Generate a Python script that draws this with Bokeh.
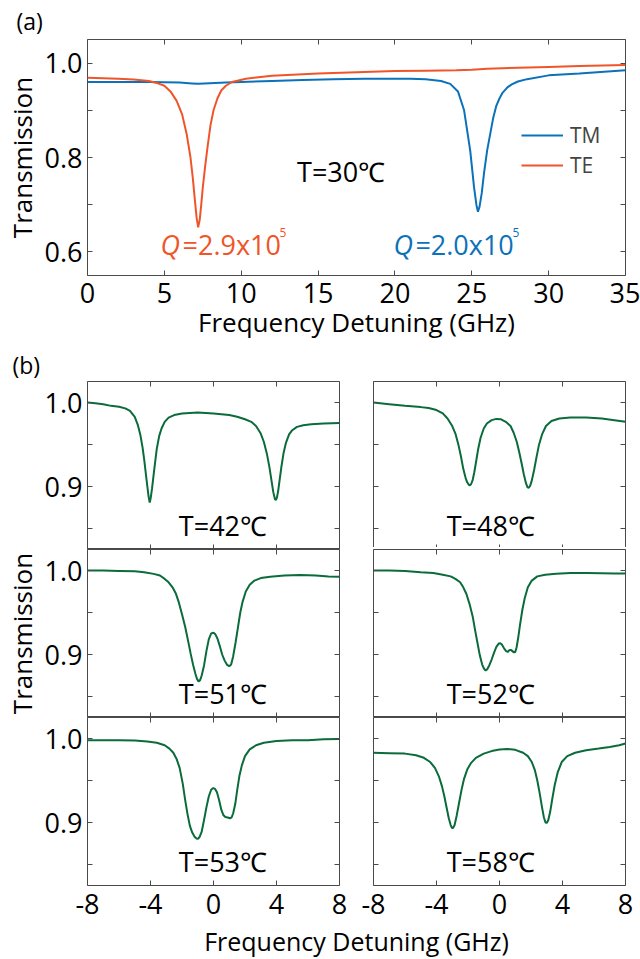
from bokeh.plotting import figure
from bokeh.models import (LinearAxis, FixedTicker, Range1d, Label, Legend, LegendItem,
                          PrintfTickFormatter, Title)
from bokeh.layouts import column, row
from bokeh.embed import file_html
from bokeh.resources import INLINE

FONT = "Open Sans"
AXC = "#4a4a4a"
BLUE = "#0b72ba"
ORANGE = "#f0552a"
GREEN = "#0a6b3b"

# ---------------- (a) data: transmission vs detuning (GHz) ----------------
te_x = [0, 1, 2, 3, 4, 4.5, 5, 5.4, 5.8, 6.15, 6.45, 6.7, 6.85, 7.0, 7.1, 7.2, 7.3, 7.4, 7.5,
        7.65, 7.8, 8.0, 8.2, 8.45, 8.7, 9.0, 9.4, 10.3, 12, 15, 18, 20, 22, 24, 25, 26, 28, 30, 32, 35]
te_y = [0.969, 0.968, 0.967, 0.965, 0.962, 0.958, 0.952, 0.940, 0.920, 0.892, 0.850, 0.800, 0.757,
        0.705, 0.672, 0.652, 0.668, 0.700, 0.736, 0.780, 0.820, 0.868, 0.900, 0.925, 0.942, 0.952,
        0.960, 0.967, 0.973, 0.978, 0.981, 0.983, 0.984, 0.985, 0.986, 0.988, 0.990, 0.992, 0.994, 0.996]

tm_x = [0, 2, 4, 6, 6.8, 7.2, 7.6, 9, 10, 12, 14, 16, 18, 20, 21, 22, 23, 23.6, 24.1, 24.5, 24.9,
        25.15, 25.3, 25.4, 25.5, 25.65, 25.8, 26.0, 26.2, 26.4, 26.6, 26.8, 27.0, 27.3, 27.6, 28.0,
        28.6, 30, 32, 35]
tm_y = [0.960, 0.960, 0.960, 0.959, 0.957, 0.956, 0.957, 0.959, 0.960, 0.962, 0.964, 0.966, 0.967,
        0.967, 0.967, 0.966, 0.962, 0.956, 0.940, 0.900, 0.814, 0.736, 0.700, 0.685, 0.695, 0.725,
        0.768, 0.815, 0.850, 0.885, 0.910, 0.925, 0.937, 0.948, 0.955, 0.961, 0.966, 0.974, 0.978,
        0.985]

a_xticks = [0, 5, 10, 15, 20, 25, 30, 35]
a_yticks = [0.6, 0.8, 1.0]
a_yminor = [0.7, 0.9]

# ---------------- (b) data ----------------
t42_x = [-8, -7.5, -7, -6.5, -6, -5.6, -5.3, -5.0, -4.8, -4.65, -4.5, -4.4, -4.3, -4.2, -4.12, -4.05,
         -3.98, -3.9, -3.8, -3.7, -3.6, -3.45, -3.3, -3.1, -2.85, -2.5, -2, -1, 0, 1, 1.5, 2, 2.4,
         2.7, 3.0, 3.2, 3.4, 3.55, 3.7, 3.8, 3.9, 3.97, 4.03, 4.1, 4.2, 4.3, 4.45, 4.6, 4.8, 5.0,
         5.3, 5.7, 6.2, 7, 8]
t42_y = [1.000, 0.999, 0.998, 0.996, 0.995, 0.993, 0.990, 0.983, 0.973, 0.962, 0.946, 0.932, 0.916,
         0.900, 0.888, 0.881, 0.887, 0.898, 0.914, 0.930, 0.945, 0.960, 0.969, 0.977, 0.982, 0.985,
         0.987, 0.988, 0.987, 0.985, 0.983, 0.980, 0.977, 0.972, 0.963, 0.953, 0.938, 0.923, 0.905,
         0.893, 0.885, 0.884, 0.887, 0.894, 0.908, 0.922, 0.940, 0.952, 0.962, 0.967, 0.971, 0.973,
         0.974, 0.975, 0.9755]

t48_x = [-8, -7, -6, -5, -4.5, -4, -3.6, -3.3, -3.0, -2.8, -2.6, -2.45, -2.3, -2.15, -2.05, -1.95,
         -1.88, -1.8, -1.7, -1.6, -1.5, -1.35, -1.2, -1.0, -0.8, -0.5, -0.2, 0.1, 0.4, 0.7, 0.9, 1.1,
         1.25, 1.4, 1.55, 1.68, 1.78, 1.86, 1.95, 2.05, 2.2, 2.35, 2.5, 2.7, 2.95, 3.3, 3.8, 4.5,
         5.5, 6.5, 7.3, 8]
t48_y = [1.000, 0.998, 0.996, 0.9945, 0.9935, 0.991, 0.987, 0.981, 0.972, 0.963, 0.949, 0.936, 0.921,
         0.910, 0.905, 0.902, 0.9015, 0.903, 0.908, 0.917, 0.928, 0.945, 0.958, 0.969, 0.975, 0.979,
         0.9805, 0.980, 0.977, 0.972, 0.964, 0.953, 0.941, 0.928, 0.914, 0.904, 0.899, 0.8985, 0.901,
         0.907, 0.920, 0.935, 0.949, 0.962, 0.972, 0.978, 0.981, 0.982, 0.982, 0.981, 0.979, 0.977]

t51_x = [-8, -7, -6, -5, -4.4, -3.8, -3.4, -3.1, -2.85, -2.6, -2.4, -2.2, -2.0, -1.8, -1.6, -1.45,
         -1.3, -1.15, -1.05, -0.95, -0.85, -0.75, -0.6, -0.45, -0.3, -0.15, 0.0, 0.12, 0.25, 0.4,
         0.55, 0.7, 0.85, 1.0, 1.12, 1.25, 1.4, 1.55, 1.7, 1.85, 2.05, 2.3, 2.6, 3.0, 3.6, 4.5, 5.5,
         6.5, 7.3, 8]
t51_y = [1.000, 1.000, 0.9995, 0.999, 0.998, 0.996, 0.994, 0.990, 0.986, 0.980, 0.973, 0.962, 0.948,
         0.933, 0.915, 0.901, 0.888, 0.877, 0.871, 0.868, 0.8695, 0.875, 0.887, 0.904, 0.918, 0.925,
         0.926, 0.924, 0.919, 0.910, 0.900, 0.893, 0.888, 0.886, 0.888, 0.898, 0.914, 0.932, 0.950,
         0.963, 0.975, 0.983, 0.988, 0.991, 0.9925, 0.994, 0.9945, 0.994, 0.993, 0.9925]

t52_x = [-8, -7, -6, -5, -4.2, -3.6, -3.1, -2.8, -2.5, -2.3, -2.1, -1.9, -1.7, -1.55, -1.4, -1.25,
         -1.1, -0.98, -0.88, -0.78, -0.65, -0.5, -0.35, -0.2, -0.05, 0.05, 0.15, 0.3, 0.42, 0.52,
         0.62, 0.72, 0.82, 0.92, 1.0, 1.08, 1.18, 1.3, 1.45, 1.6, 1.8, 2.05, 2.4, 2.9, 3.6, 4.5,
         5.5, 6.5, 7.3, 8]
t52_y = [1.000, 1.000, 0.9995, 0.998, 0.997, 0.995, 0.993, 0.990, 0.986, 0.980, 0.972, 0.960, 0.945,
         0.929, 0.914, 0.899, 0.888, 0.883, 0.881, 0.8825, 0.887, 0.894, 0.902, 0.909, 0.913, 0.9135,
         0.912, 0.907, 0.904, 0.903, 0.905, 0.9055, 0.904, 0.9025, 0.903, 0.908, 0.919, 0.935, 0.953,
         0.967, 0.980, 0.988, 0.993, 0.995, 0.996, 0.997, 0.997, 0.9968, 0.9965, 0.9965]

t53_x = [-8, -7, -6, -5, -4.2, -3.6, -3.1, -2.8, -2.55, -2.35, -2.15, -1.95, -1.8, -1.65, -1.5,
         -1.35, -1.2, -1.08, -0.98, -0.88, -0.75, -0.6, -0.45, -0.3, -0.15, -0.02, 0.1, 0.22, 0.35,
         0.5, 0.62, 0.75, 0.9, 1.05, 1.15, 1.25, 1.38, 1.5, 1.65, 1.8, 2.0, 2.3, 2.7, 3.2, 4.0, 5.0,
         6.0, 7.0, 8]
t53_y = [0.998, 0.998, 0.998, 0.9975, 0.9965, 0.995, 0.992, 0.988, 0.983, 0.976, 0.965, 0.946, 0.927,
         0.910, 0.896, 0.888, 0.883, 0.881, 0.8805, 0.883, 0.889, 0.903, 0.918, 0.931, 0.939, 0.941,
         0.940, 0.936, 0.927, 0.915, 0.909, 0.9065, 0.906, 0.905, 0.906, 0.911, 0.922, 0.938, 0.956,
         0.968, 0.979, 0.987, 0.992, 0.995, 0.997, 0.998, 0.998, 0.999, 0.9995]

t58_x = [-8, -7, -6, -5.3, -4.8, -4.4, -4.1, -3.85, -3.65, -3.5, -3.35, -3.22, -3.1, -3.02, -2.95,
         -2.85, -2.72, -2.58, -2.42, -2.25, -2.05, -1.8, -1.5, -1.0, -0.5, 0, 0.5, 1.0, 1.5, 1.8,
         2.05, 2.25, 2.4, 2.55, 2.7, 2.82, 2.92, 3.0, 3.1, 3.22, 3.35, 3.5, 3.7, 3.95, 4.3, 4.8, 5.5,
         6.3, 7.0, 7.6, 8]
t58_y = [0.983, 0.9825, 0.982, 0.980, 0.977, 0.972, 0.965, 0.955, 0.943, 0.931, 0.917, 0.905, 0.897,
         0.8935, 0.8935, 0.897, 0.908, 0.922, 0.938, 0.952, 0.963, 0.971, 0.977, 0.982, 0.985, 0.987,
         0.9875, 0.9865, 0.983, 0.979, 0.972, 0.962, 0.950, 0.935, 0.918, 0.906, 0.900, 0.8995, 0.903,
         0.913, 0.928, 0.944, 0.960, 0.972, 0.979, 0.983, 0.986, 0.988, 0.990, 0.992, 0.994]

b_labels = ["T=42℃", "T=48℃", "T=51℃", "T=52℃", "T=53℃", "T=58℃"]
b_xticks = [-8, -4, 0, 4, 8]
b_yticks = [0.9, 1.0]
b_yminor = [0.85, 0.95]


def key(v):
    return int(v) if float(v).is_integer() else v


def style_axis(ax, ticks, minor=None, show=True, fmt="%d"):
    ax.ticker = FixedTicker(ticks=ticks, minor_ticks=minor or [])
    ax.formatter = PrintfTickFormatter(format=fmt)
    ax.axis_line_color = None
    ax.major_tick_in = 5
    ax.major_tick_out = 0
    ax.minor_tick_in = 5
    ax.minor_tick_out = 0
    ax.major_tick_line_color = AXC
    ax.minor_tick_line_color = AXC
    ax.major_label_text_font = FONT
    ax.major_label_text_color = "black"
    ax.axis_label_text_font = FONT
    ax.axis_label_text_font_style = "normal"
    ax.axis_label_text_color = "black"
    ax.axis_label_text_font_size = "26px"
    if show:
        ax.major_label_text_font_size = "27px"
    else:
        ax.major_label_overrides = {key(v): "" for v in ticks}
        ax.major_label_text_font_size = "0px"
        ax.major_label_standoff = 0


def base_fig(w, h, xr, yr, bl, br, bt, bb):
    p = figure(frame_width=w, frame_height=h, x_range=Range1d(*xr), y_range=Range1d(*yr),
               output_backend="svg", toolbar_location=None,
               min_border_left=bl, min_border_right=br, min_border_top=bt, min_border_bottom=bb,
               outline_line_color=AXC, outline_line_width=1, background_fill_color="white")
    p.grid.visible = False
    p.add_layout(LinearAxis(), "above")
    p.add_layout(LinearAxis(), "right")
    return p


def panel_title(p, text, offset, standoff):
    p.title = Title(text=text, align="left", offset=offset, standoff=standoff, text_font=FONT,
                    text_font_size="23px", text_font_style="normal", text_color="black")


def lab(p, x, y, text, color="black", size=27, style="normal", align="left", xo=0, yo=0):
    # y is the wanted baseline; compensate the renderer's descent shift
    p.add_layout(Label(x=x, y=y, text=text, text_color=color, text_font=FONT,
                       text_font_size=f"{size}px", text_font_style=style, text_align=align,
                       text_baseline="alphabetic", x_offset=xo, y_offset=yo + 0.39 * size))


def legend_entry(p, label, rend, y):
    p.add_layout(Legend(items=[LegendItem(label=label, renderers=[rend])], location=(434, y),
                        padding=0, margin=0, spacing=0, glyph_width=42, glyph_height=40,
                        label_height=40, label_standoff=7, border_line_color=None,
                        background_fill_alpha=0, label_text_font=FONT,
                        label_text_font_size="21px"))


# ---------------- panel (a) ----------------
pa = base_fig(538, 236, (0, 35), (0.55, 1.05), 87, 15, 39, 70)
panel_title(pa, "(a)", -71, 5)
r_tm = pa.line(tm_x, tm_y, line_color=BLUE, line_width=2)
r_te = pa.line(te_x, te_y, line_color=ORANGE, line_width=2)
style_axis(pa.below[0], a_xticks)
pa.below[0].axis_label = "Frequency Detuning (GHz)"
pa.below[0].major_label_standoff = 7
pa.below[0].axis_label_standoff = -2
style_axis(pa.above[0], a_xticks, show=False)
style_axis(pa.left[0], a_yticks, a_yminor, fmt="%.1f")
pa.left[0].axis_label = "Transmission"
pa.left[0].major_label_standoff = 5
pa.left[0].axis_label_standoff = 2
style_axis(pa.right[0], a_yticks, a_yminor, show=False, fmt="%.1f")

legend_entry(pa, "TM", r_tm, 120)
legend_entry(pa, "TE", r_te, 90)

lab(pa, 16.5, 0.748, "T=30℃", align="center")
lab(pa, 4.75, 0.593, "Q", color=ORANGE, style="italic")
lab(pa, 4.75, 0.593, "=2.9x10", color=ORANGE, xo=22)
lab(pa, 4.75, 0.593, "5", color=ORANGE, size=12, xo=119, yo=18)
lab(pa, 19.9, 0.593, "Q", color=BLUE, style="italic")
lab(pa, 19.9, 0.593, "=2.0x10", color=BLUE, xo=22)
lab(pa, 19.9, 0.593, "5", color=BLUE, size=12, xo=119, yo=18)

# ---------------- panels (b) ----------------
b_x = [t42_x, t48_x, t51_x, t52_x, t53_x, t58_x]
b_y = [t42_y, t48_y, t51_y, t52_y, t53_y, t58_y]
label_x = [0.6, -0.55]

rows = []
for r in range(3):
    figs = []
    for c in range(2):
        i = 2 * r + c
        bt = 34 if r == 0 else 0
        bb = 41 if r == 2 else 0
        if c == 0:
            p = base_fig(252, 168, (-8, 8), (0.825, 1.025), 87, 17, bt, bb)
        else:
            p = base_fig(252, 168, (-8, 8), (0.825, 1.025), 17, 15, bt, bb)
        if r == 0 and c == 0:
            panel_title(p, "(b)", -75, 2)
        p.line(b_x[i], b_y[i], line_color=GREEN, line_width=2)
        style_axis(p.below[0], b_xticks, show=(r == 2))
        if r == 2:
            p.below[0].major_label_standoff = 8
        style_axis(p.above[0], b_xticks, show=False)
        style_axis(p.left[0], b_yticks, b_yminor, show=(c == 0), fmt="%.1f")
        if c == 0:
            p.left[0].major_label_standoff = 5
        if c == 0 and r == 1:
            p.left[0].axis_label = "Transmission"
            p.left[0].axis_label_standoff = 2
        style_axis(p.right[0], b_yticks, b_yminor, show=False, fmt="%.1f")
        lab(p, label_x[c], 0.841, b_labels[i], align="center")
        figs.append(p)
    rows.append(row(*figs, spacing=0))

# ---------------- footer with the shared x label ----------------
foot = figure(frame_width=538, frame_height=35, x_range=Range1d(0, 538), y_range=Range1d(0, 35),
              output_backend="svg", toolbar_location=None, min_border_left=87, min_border_right=15,
              min_border_top=0, min_border_bottom=0, outline_line_color=None,
              x_axis_location=None, y_axis_location=None)
foot.grid.visible = False
lab(foot, 269, 10.5, "Frequency Detuning (GHz)", size=25, align="center")

page = column(pa, *rows, foot, spacing=0)
open("out.html", "w").write(file_html(page, INLINE))
